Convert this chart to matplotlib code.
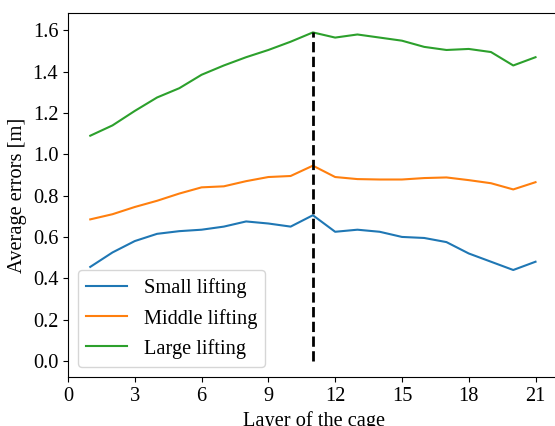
import numpy as np
import matplotlib.pyplot as plt

plt.rcParams['font.family'] = ['Liberation Serif', 'DejaVu Serif']
plt.rcParams['mathtext.fontset'] = 'stix'

layers = np.arange(1, 22)
small = [0.455, 0.525, 0.58, 0.615, 0.628, 0.635, 0.65, 0.675, 0.665, 0.65, 0.705,
         0.625, 0.635, 0.625, 0.60, 0.595, 0.575, 0.52, 0.48, 0.44, 0.48]
middle = [0.685, 0.71, 0.745, 0.775, 0.81, 0.84, 0.845, 0.87, 0.89, 0.895, 0.945,
          0.89, 0.88, 0.878, 0.878, 0.885, 0.888, 0.875, 0.86, 0.83, 0.865]
large = [1.09, 1.14, 1.21, 1.275, 1.32, 1.385, 1.43, 1.47, 1.505, 1.545, 1.59,
         1.565, 1.58, 1.565, 1.55, 1.52, 1.505, 1.51, 1.495, 1.43, 1.47]
peak_layer = 11
peak_value = 1.59

fs = 14.7
fig = plt.figure(figsize=(5.55, 4.26), dpi=100)
ax = fig.add_axes([68 / 555, 49 / 426, 492 / 555, 364 / 426])

ax.plot(layers, small, color='#1f77b4', lw=1.5, label='Small lifting')
ax.plot(layers, middle, color='#ff7f0e', lw=1.5, label='Middle lifting')
ax.plot(layers, large, color='#2ca02c', lw=1.5, label='Large lifting')
ax.plot([peak_layer, peak_layer], [0, peak_value], 'k--', lw=2)

ax.set_xlim(0, 22.1)
ax.set_ylim(-0.078, 1.684)
ax.set_xticks(np.arange(0, 22, 3))
ax.set_yticks(np.arange(0, 1.7, 0.2))
ax.yaxis.set_major_formatter(plt.FormatStrFormatter('%.1f'))
ax.tick_params(labelsize=fs)
ax.set_xlabel('Layer of the cage', fontsize=fs)
ax.set_ylabel('Average errors [m]', fontsize=fs)
ax.legend(loc='lower left', fontsize=fs)

fig.savefig('out.png', dpi=100)
